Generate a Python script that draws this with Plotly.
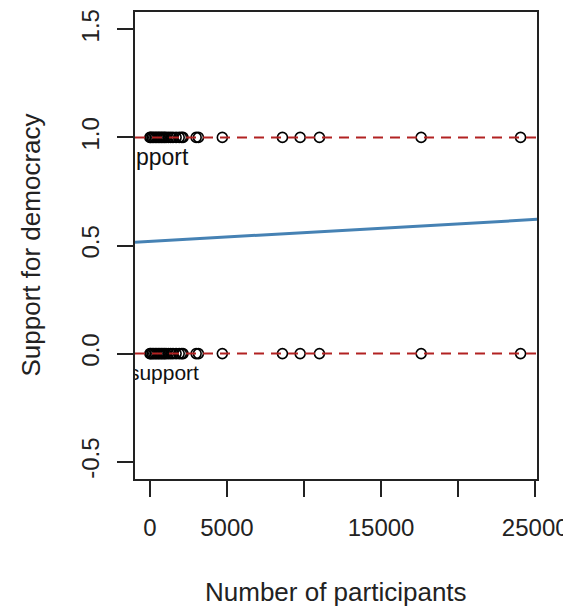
import plotly.graph_objects as go

# Data
support_x = [0, 60, 150, 250, 350, 450, 550, 650, 750, 850, 950, 1050, 1200, 1350,
             1500, 1700, 1900, 2050, 2150, 3000, 3150, 4700, 8600, 9750, 11000, 17600, 24050]
nosupport_x = [0, 60, 150, 250, 350, 450, 550, 650, 750, 850, 950, 1050, 1200, 1350,
               1500, 1700, 1900, 2050, 2150, 3000, 3150, 4700, 8600, 9750, 11000, 17600, 24050]
support_y = [1] * len(support_x)
nosupport_y = [0] * len(nosupport_x)

fit_intercept = 0.519
fit_slope = 4.06e-6

x_range = [-966, 25116]
y_range = [-0.58, 1.58]

x_ticks = [0, 5000, 10000, 15000, 20000, 25000]
x_ticktext = ["0", "5000", "", "15000", "", "25000"]
y_ticks = [-0.5, 0.0, 0.5, 1.0, 1.5]
y_ticktext = ["-0.5", "0.0", "0.5", "1.0", "1.5"]

label_x = [-115, -150]
label_y = [0.9, -0.1]
label_text = ["Support", "No support"]

FONT = "Liberation Sans, Arial, sans-serif"

fig = go.Figure()

# regression line
fig.add_trace(go.Scatter(
    x=x_range, y=[fit_intercept + fit_slope * v for v in x_range],
    mode="lines", line=dict(color="#4682B4", width=3), hoverinfo="skip"))

# points
marker = dict(symbol="circle-open", size=10, color="black", line=dict(width=1.6, color="black"))
fig.add_trace(go.Scatter(x=support_x, y=support_y, mode="markers", marker=marker))
fig.add_trace(go.Scatter(x=nosupport_x, y=nosupport_y, mode="markers", marker=marker))

# dashed reference lines
for yv in [1, 0]:
    fig.add_trace(go.Scatter(
        x=x_range, y=[yv, yv], mode="lines",
        line=dict(color="#B22222", width=2, dash="10px,7px"), hoverinfo="skip"))

# labels (clipped by plot area)
fig.add_trace(go.Scatter(
    x=label_x, y=label_y, mode="text", text=label_text,
    textposition="middle center", cliponaxis=True,
    textfont=dict(family=FONT, size=[23, 21], color="#111111")))

axis_common = dict(
    showgrid=False, zeroline=False, showline=True, linecolor="#222222", linewidth=2,
    mirror=True, ticks="outside", ticklen=16, tickwidth=1.5, tickcolor="#222222",
    tickfont=dict(family=FONT, size=24, color="#222222"),
)

# page body has an 8px margin, so the figure is sized to fit the 571x610 window
fig.update_layout(
    width=563, height=602,
    margin=dict(l=127, r=34, t=2, b=131),
    paper_bgcolor="white", plot_bgcolor="white",
    showlegend=False,
    xaxis=dict(range=x_range, tickmode="array", tickvals=x_ticks, ticktext=x_ticktext,
               ticklabelstandoff=10, **axis_common),
    yaxis=dict(range=y_range, tickmode="array", tickvals=y_ticks, ticktext=y_ticktext,
               tickangle=-90, ticklabelstandoff=8, **axis_common),
    annotations=[
        dict(text="Number of participants", x=0.5, y=0, xref="paper", yref="paper",
             xanchor="center", yanchor="middle", yshift=-113, showarrow=False,
             font=dict(family=FONT, size=26, color="#222222")),
        dict(text="Support for democracy", x=0, y=0.5, xref="paper", yref="paper",
             xanchor="center", yanchor="middle", xshift=-105, textangle=-90, showarrow=False,
             font=dict(family=FONT, size=26, color="#222222")),
    ],
)

fig.write_html("out.html", config={"displayModeBar": False})
